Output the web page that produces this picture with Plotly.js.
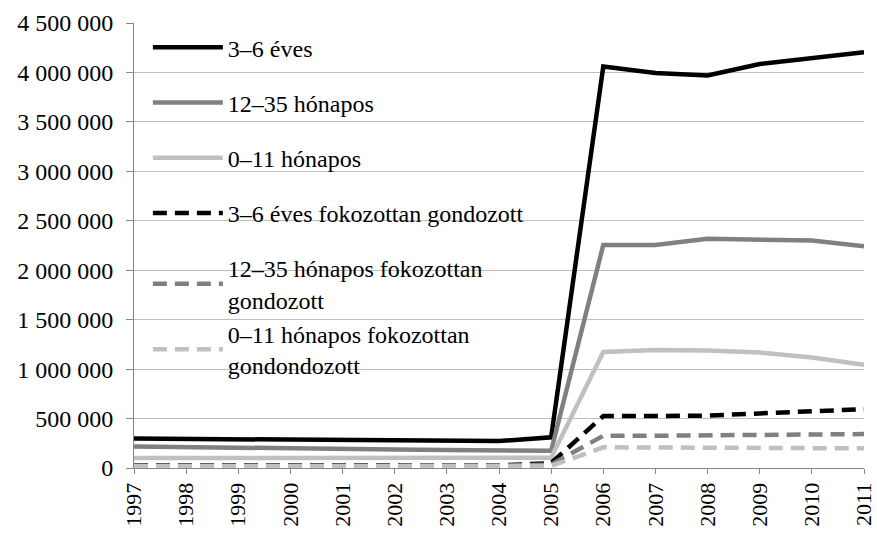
<!DOCTYPE html>
<html>
<head>
<meta charset="utf-8">
<script src="https://cdn.plot.ly/plotly-3.0.1.min.js"></script>
<style>html,body{margin:0;padding:0;background:#fff;}#chart{width:877px;height:535px;}</style>
</head>
<body>
<div id="chart"></div>
<script>
const years = [1997,1998,1999,2000,2001,2002,2003,2004,2005,2006,2007,2008,2009,2010,2011];
const names = ["3–6 éves","12–35 hónapos","0–11 hónapos","3–6 éves fokozottan gondozott","12–35 hónapos fokozottan<br>gondozott","0–11 hónapos fokozottan<br>gondondozott"];
const age3to6 = [298000,295000,292000,288000,284000,280000,276000,272000,310000,4060000,3995000,3970000,4085000,4145000,4205000];
const age12to35 = [218000,210000,202000,195000,190000,187000,183000,178000,174000,2255000,2255000,2318000,2311000,2300000,2243000];
const age0to11 = [100000,100000,102000,103000,103000,103000,103000,103000,103000,1174000,1194000,1188000,1167000,1117000,1043000];
const age3to6Care = [26000,26000,26000,26000,26000,26000,26000,26000,50000,525000,525000,530000,552000,572000,595000];
const age12to35Care = [22000,22000,22000,22000,22000,22000,22000,22000,35000,326000,326000,328000,336000,343000,343000];
const age0to11Care = [17000,17000,17000,17000,17000,17000,17000,17000,20000,209000,207000,207000,206000,204000,199000];
const yTicks = [0,500000,1000000,1500000,2000000,2500000,3000000,3500000,4000000,4500000];

const series = [age3to6, age12to35, age0to11, age3to6Care, age12to35Care, age0to11Care];
const colors = ["#000000","#808080","#c0c0c0","#000000","#808080","#c0c0c0"];
const dashes = ["solid","solid","solid","14px,8px","14px,8px","14px,8px"];
const groups = ["g0","g1","g2","g3","g4","g4"];

const traces = series.map((vals, i) => ({
  x: years, y: vals, name: names[i], type: "scatter", mode: "lines",
  line: {color: colors[i], width: 4.5, dash: dashes[i]},
  legendgroup: groups[i],
  hoverinfo: "skip"
}));

const fam = "Liberation Serif, Times New Roman, serif";
const fontX = {family: fam, size: 22, color: "#000"};
const fontY = {family: fam, size: 24, color: "#000"};
const fontL = {family: fam, size: 24, color: "#000"};

const layout = {
  width: 877, height: 535,
  margin: {l: 134, r: 13, t: 23, b: 67},
  paper_bgcolor: "#fff", plot_bgcolor: "#fff",
  separators: ", ",
  font: fontY,
  showlegend: true,
  legend: {
    x: 0.019, y: 0.995, xanchor: "left", yanchor: "top",
    bgcolor: "rgba(0,0,0,0)", borderwidth: 0,
    font: fontL, tracegroupgap: 21, itemwidth: 70,
    traceorder: "grouped"
  },
  xaxis: {
    type: "linear", range: [1997, 2011],
    tickmode: "array", tickvals: years, ticktext: years.map(String),
    tickangle: -90, ticks: "outside", ticklen: 5, tickcolor: "#868686",
    ticklabelstandoff: 0,
    showgrid: false, zeroline: false, ticklabeloverflow: "allow",
    showline: true, linecolor: "#868686", linewidth: 1,
    tickfont: fontX, fixedrange: true
  },
  yaxis: {
    range: [0, 4500000],
    tickmode: "array", tickvals: yTicks, tickformat: ",d",
    ticks: "outside", ticklen: 7, tickcolor: "#868686",
    ticklabelstandoff: 8,
    showgrid: true, gridcolor: "#bfbfbf", gridwidth: 1,
    zeroline: false, showline: true, linecolor: "#868686", linewidth: 1,
    tickfont: fontY, fixedrange: true
  }
};

Plotly.newPlot("chart", traces, layout, {displayModeBar: false, staticPlot: true});
</script>
</body>
</html>
